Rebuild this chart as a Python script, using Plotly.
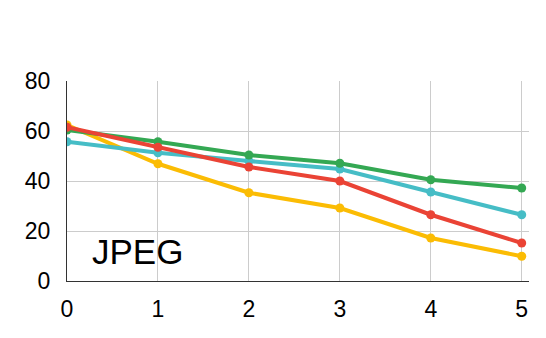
import plotly.graph_objects as go

x = [0, 1, 2, 3, 4, 5]
yellow = [62.4, 46.9, 35.3, 29.2, 17.2, 9.9]
cyan = [55.7, 51.3, 48.0, 44.8, 35.6, 26.5]
green = [60.4, 55.7, 50.4, 47.1, 40.5, 37.2]
red = [61.5, 53.5, 45.6, 40.0, 26.5, 15.2]

series = [("yellow", yellow, "#FBBC04"), ("cyan", cyan, "#46BDC6"),
          ("green", green, "#34A853"), ("red", red, "#EA4335")]

fig = go.Figure()
for name, ys, color in series:
    fig.add_trace(go.Scatter(x=x, y=ys, name=name, mode="lines+markers",
                             line=dict(color=color, width=4),
                             marker=dict(color=color, size=9)))

fig.add_annotation(x=0.25, y=12, text="JPEG", showarrow=False, xanchor="left",
                   font=dict(size=35, color="#000000"))

tick_font = dict(family="Liberation Sans, Arial, sans-serif", size=23, color="#000000")

# page body has an 8px margin, so the figure is shifted up/left by 8px
fig.update_layout(
    width=546, height=338,
    margin=dict(l=59, r=25, t=73, b=65, autoexpand=False),
    paper_bgcolor="white", plot_bgcolor="white",
    showlegend=False,
    font=dict(family="Liberation Sans, Arial, sans-serif", size=23, color="#000000"),
)
fig.update_xaxes(range=[0, 5.08], tickvals=x, showgrid=True, gridcolor="#cccccc",
                 gridwidth=1, zeroline=False, showline=True, linecolor="#333333",
                 linewidth=1, ticks="", ticklabelstandoff=7, tickfont=tick_font,
                 automargin=False)
fig.update_yaxes(range=[0, 80], tickvals=[0, 20, 40, 60, 80], showgrid=True,
                 gridcolor="#cccccc", gridwidth=1, zeroline=False, showline=True,
                 linecolor="#333333", linewidth=1, ticks="", ticklabelstandoff=11,
                 tickfont=tick_font, automargin=False)

fig.write_html("out.html")
